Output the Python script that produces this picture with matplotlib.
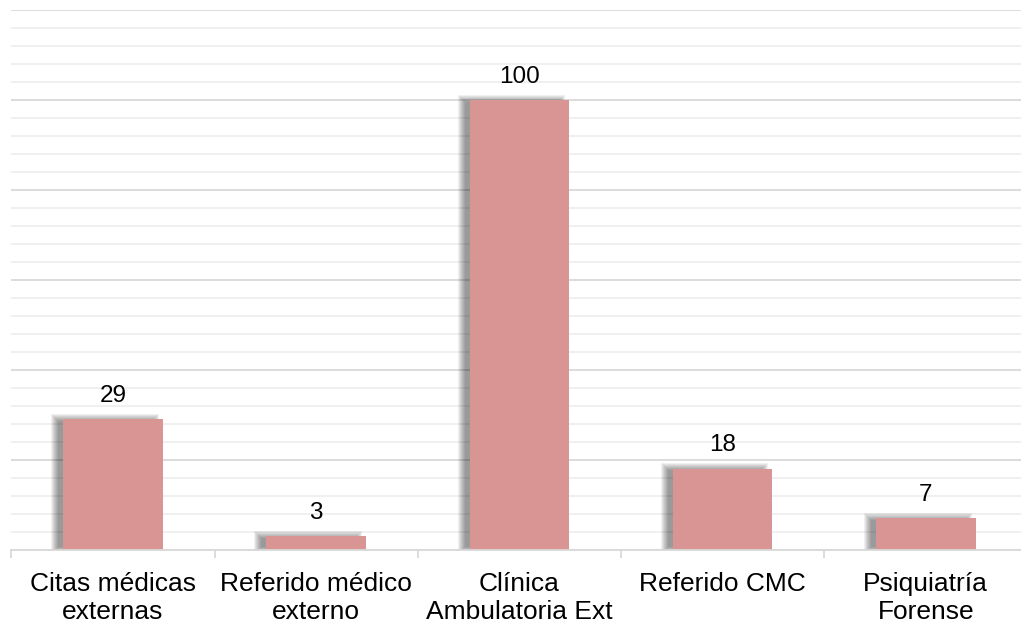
import matplotlib
matplotlib.use("Agg")
import matplotlib.pyplot as plt
import numpy as np

categories = ["Citas médicas\nexternas", "Referido médico\nexterno", "Clínica\nAmbulatoria Ext",
              "Referido CMC", "Psiquiatría\nForense"]
values = [29, 3, 100, 18, 7]

plt.rcParams['font.family'] = ['Liberation Sans', 'DejaVu Sans']

fig = plt.figure(figsize=(10.21, 6.29), dpi=100)
ax = fig.add_axes([0.0112, 0.1256, 0.995, 0.8585])

x = np.arange(len(categories))
bw = 0.49
px = 1.0 / 203.0  # one pixel in data units (x)
py = 120.0 / 540.0  # one pixel in data units (y)

# blurred drop shadow offset to the left and slightly up
vals = np.array(values, dtype=float)
for e in np.arange(-3, 5, 1.0):
    ax.bar(x - 8 * px, vals + 1.5 * py + 2 * e * py, bottom=-e * py,
           width=bw + 2 * e * px, color='black', alpha=0.06, zorder=2, linewidth=0)

ax.bar(x, values, width=bw, color='#D99594', zorder=3, linewidth=0)

for xi, v in zip(x, values):
    ax.annotate(str(v), (xi, v), xytext=(0, 9), textcoords='offset points',
                ha='center', va='bottom', fontsize=17.5, color='#000000')

ax.set_ylim(0, 120)
ax.set_xlim(-0.5, 4.5)
ax.set_yticks(np.arange(0, 121, 20))
ax.set_yticks(np.arange(0, 121, 4), minor=True)
ax.yaxis.grid(True, which='major', color='#d9d9d9', linewidth=1.3, zorder=0)
ax.yaxis.grid(True, which='minor', color='#efefef', linewidth=1.3, zorder=0)
ax.set_axisbelow(True)
ax.tick_params(axis='y', which='both', left=False, labelleft=False)

for s in ['top', 'right', 'left']:
    ax.spines[s].set_visible(False)
ax.spines['bottom'].set_color('#d9d9d9')
ax.spines['bottom'].set_linewidth(1.3)
ax.spines['bottom'].set_zorder(4)

ax.set_xticks(np.arange(-0.5, 4.6, 1.0))
ax.set_xticklabels([])
ax.tick_params(axis='x', which='major', length=6, color='#d9d9d9', width=1.3)
ax.set_xticks(x, minor=True)
ax.set_xticklabels(categories, minor=True, fontsize=19, color='#000000', linespacing=1.25)
ax.tick_params(axis='x', which='minor', length=0, pad=15.5)

fig.savefig("out.png", dpi=100)
